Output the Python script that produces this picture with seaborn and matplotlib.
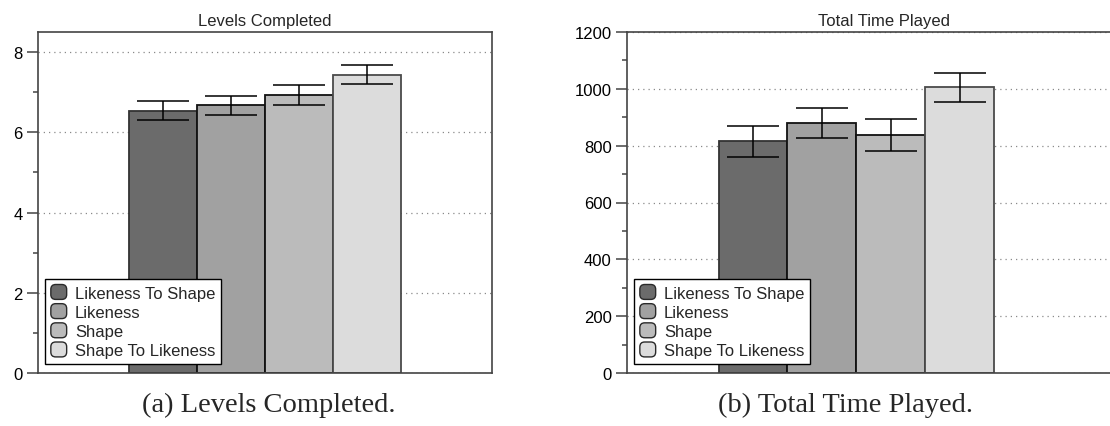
import matplotlib
matplotlib.use("Agg")
import matplotlib.pyplot as plt
from matplotlib.legend_handler import HandlerPatch
from matplotlib.patches import FancyBboxPatch, Patch
from matplotlib.ticker import MultipleLocator
import pandas as pd
import seaborn as sns

# ---- data ----
conditions = ["Likeness To Shape", "Likeness", "Shape", "Shape To Likeness"]
levels_mean = [6.54, 6.67, 6.92, 7.44]
levels_err = [0.24, 0.24, 0.25, 0.23]
time_mean = [815, 881, 837, 1006]
time_err = [54, 53, 56, 51]

bar_colors = ["#6b6b6b", "#a1a1a1", "#bbbbbb", "#dcdcdc"]
edge_colors = ["#333333", "#111111", "#111111", "#4a4a4a"]

sns.set_theme(style="white")
plt.rcParams["font.family"] = ["Liberation Sans", "DejaVu Sans"]
plt.rcParams["font.size"] = 12

W, H = 1110, 427
fig = plt.figure(figsize=(W / 100, H / 100), dpi=100)


def px_axes(x0, x1, y0, y1):
    """Create an axes from pixel edges (y measured from the top)."""
    return fig.add_axes([x0 / W, (H - y1) / H, (x1 - x0) / W, (y1 - y0) / H])


class RoundedSquare(HandlerPatch):
    def create_artists(self, legend, orig_handle, xdescent, ydescent,
                       width, height, fontsize, trans):
        p = FancyBboxPatch((-xdescent, -ydescent), width, height,
                           boxstyle="round,pad=0,rounding_size=3.5",
                           facecolor=orig_handle.get_facecolor(),
                           edgecolor="#2a2a2a", linewidth=1.0,
                           transform=trans)
        return [p]


def draw_panel(ax, values, errors, title, ymax, major, minor, xmax):
    df = pd.DataFrame({"condition": conditions, "value": values})
    sns.barplot(data=df, x="condition", y="value", hue="condition",
                palette=bar_colors, width=1.0, errorbar=None,
                legend=False, ax=ax, zorder=2)
    for patch, ec in zip(ax.patches, edge_colors):
        patch.set_edgecolor(ec)
        patch.set_linewidth(1.3)
    ax.errorbar(range(len(conditions)), values, yerr=errors, fmt="none",
                ecolor="black", elinewidth=1.1, capsize=19, capthick=1.1,
                zorder=3)

    ax.set_xlim(-1.83, xmax)
    ax.set_ylim(0, ymax)
    ax.set_xlabel("")
    ax.set_ylabel("")
    ax.set_xticks([])
    ax.yaxis.set_major_locator(MultipleLocator(major))
    ax.yaxis.set_minor_locator(MultipleLocator(minor))
    ax.tick_params(axis="y", which="major", direction="out", length=8,
                   width=1.1, color="#444444", pad=3, labelsize=12,
                   left=True, labelcolor="black")
    ax.tick_params(axis="y", which="minor", direction="out", length=3.8,
                   width=1.1, color="#444444", left=True)
    ax.set_axisbelow(True)
    ax.grid(axis="y", which="major", color="#8a8a8a", linestyle=(0, (1, 3.2)),
            linewidth=0.9)
    ax.grid(axis="x", visible=False)
    for side in ["left", "bottom", "top", "right"]:
        ax.spines[side].set_visible(True)
        ax.spines[side].set_color("#444444")
        ax.spines[side].set_linewidth(1.2)
    ax.set_title(title, fontsize=12, pad=5)

    handles = [Patch(facecolor=c, label=n) for c, n in zip(bar_colors, conditions)]
    leg = ax.legend(handles=handles, loc="lower left",
                    bbox_to_anchor=(7 / ax.bbox.width * 1.0, 9 / ax.bbox.height),
                    borderaxespad=0, fancybox=False, frameon=True,
                    edgecolor="black", framealpha=1, fontsize=12,
                    handlelength=0.95, handleheight=1.0, handletextpad=0.5,
                    labelspacing=0.18, borderpad=0.35,
                    handler_map={Patch: RoundedSquare()})
    leg.get_frame().set_linewidth(1.0)


ax1 = px_axes(38, 492, 33, 374)
draw_panel(ax1, levels_mean, levels_err, "Levels Completed", 8.5, 2, 1, 4.83)

ax2 = px_axes(627, 1140, 33, 374)
draw_panel(ax2, time_mean, time_err, "Total Time Played", 1200, 200, 100, 5.62)

# sub-figure captions
fig.text(269 / W, 1 - 405 / H, "(a) Levels Completed.", ha="center", va="center",
         fontsize=20.5, family="Liberation Serif")
fig.text(845 / W, 1 - 405 / H, "(b) Total Time Played.", ha="center", va="center",
         fontsize=20.5, family="Liberation Serif")

fig.savefig("out.png", dpi=100)
